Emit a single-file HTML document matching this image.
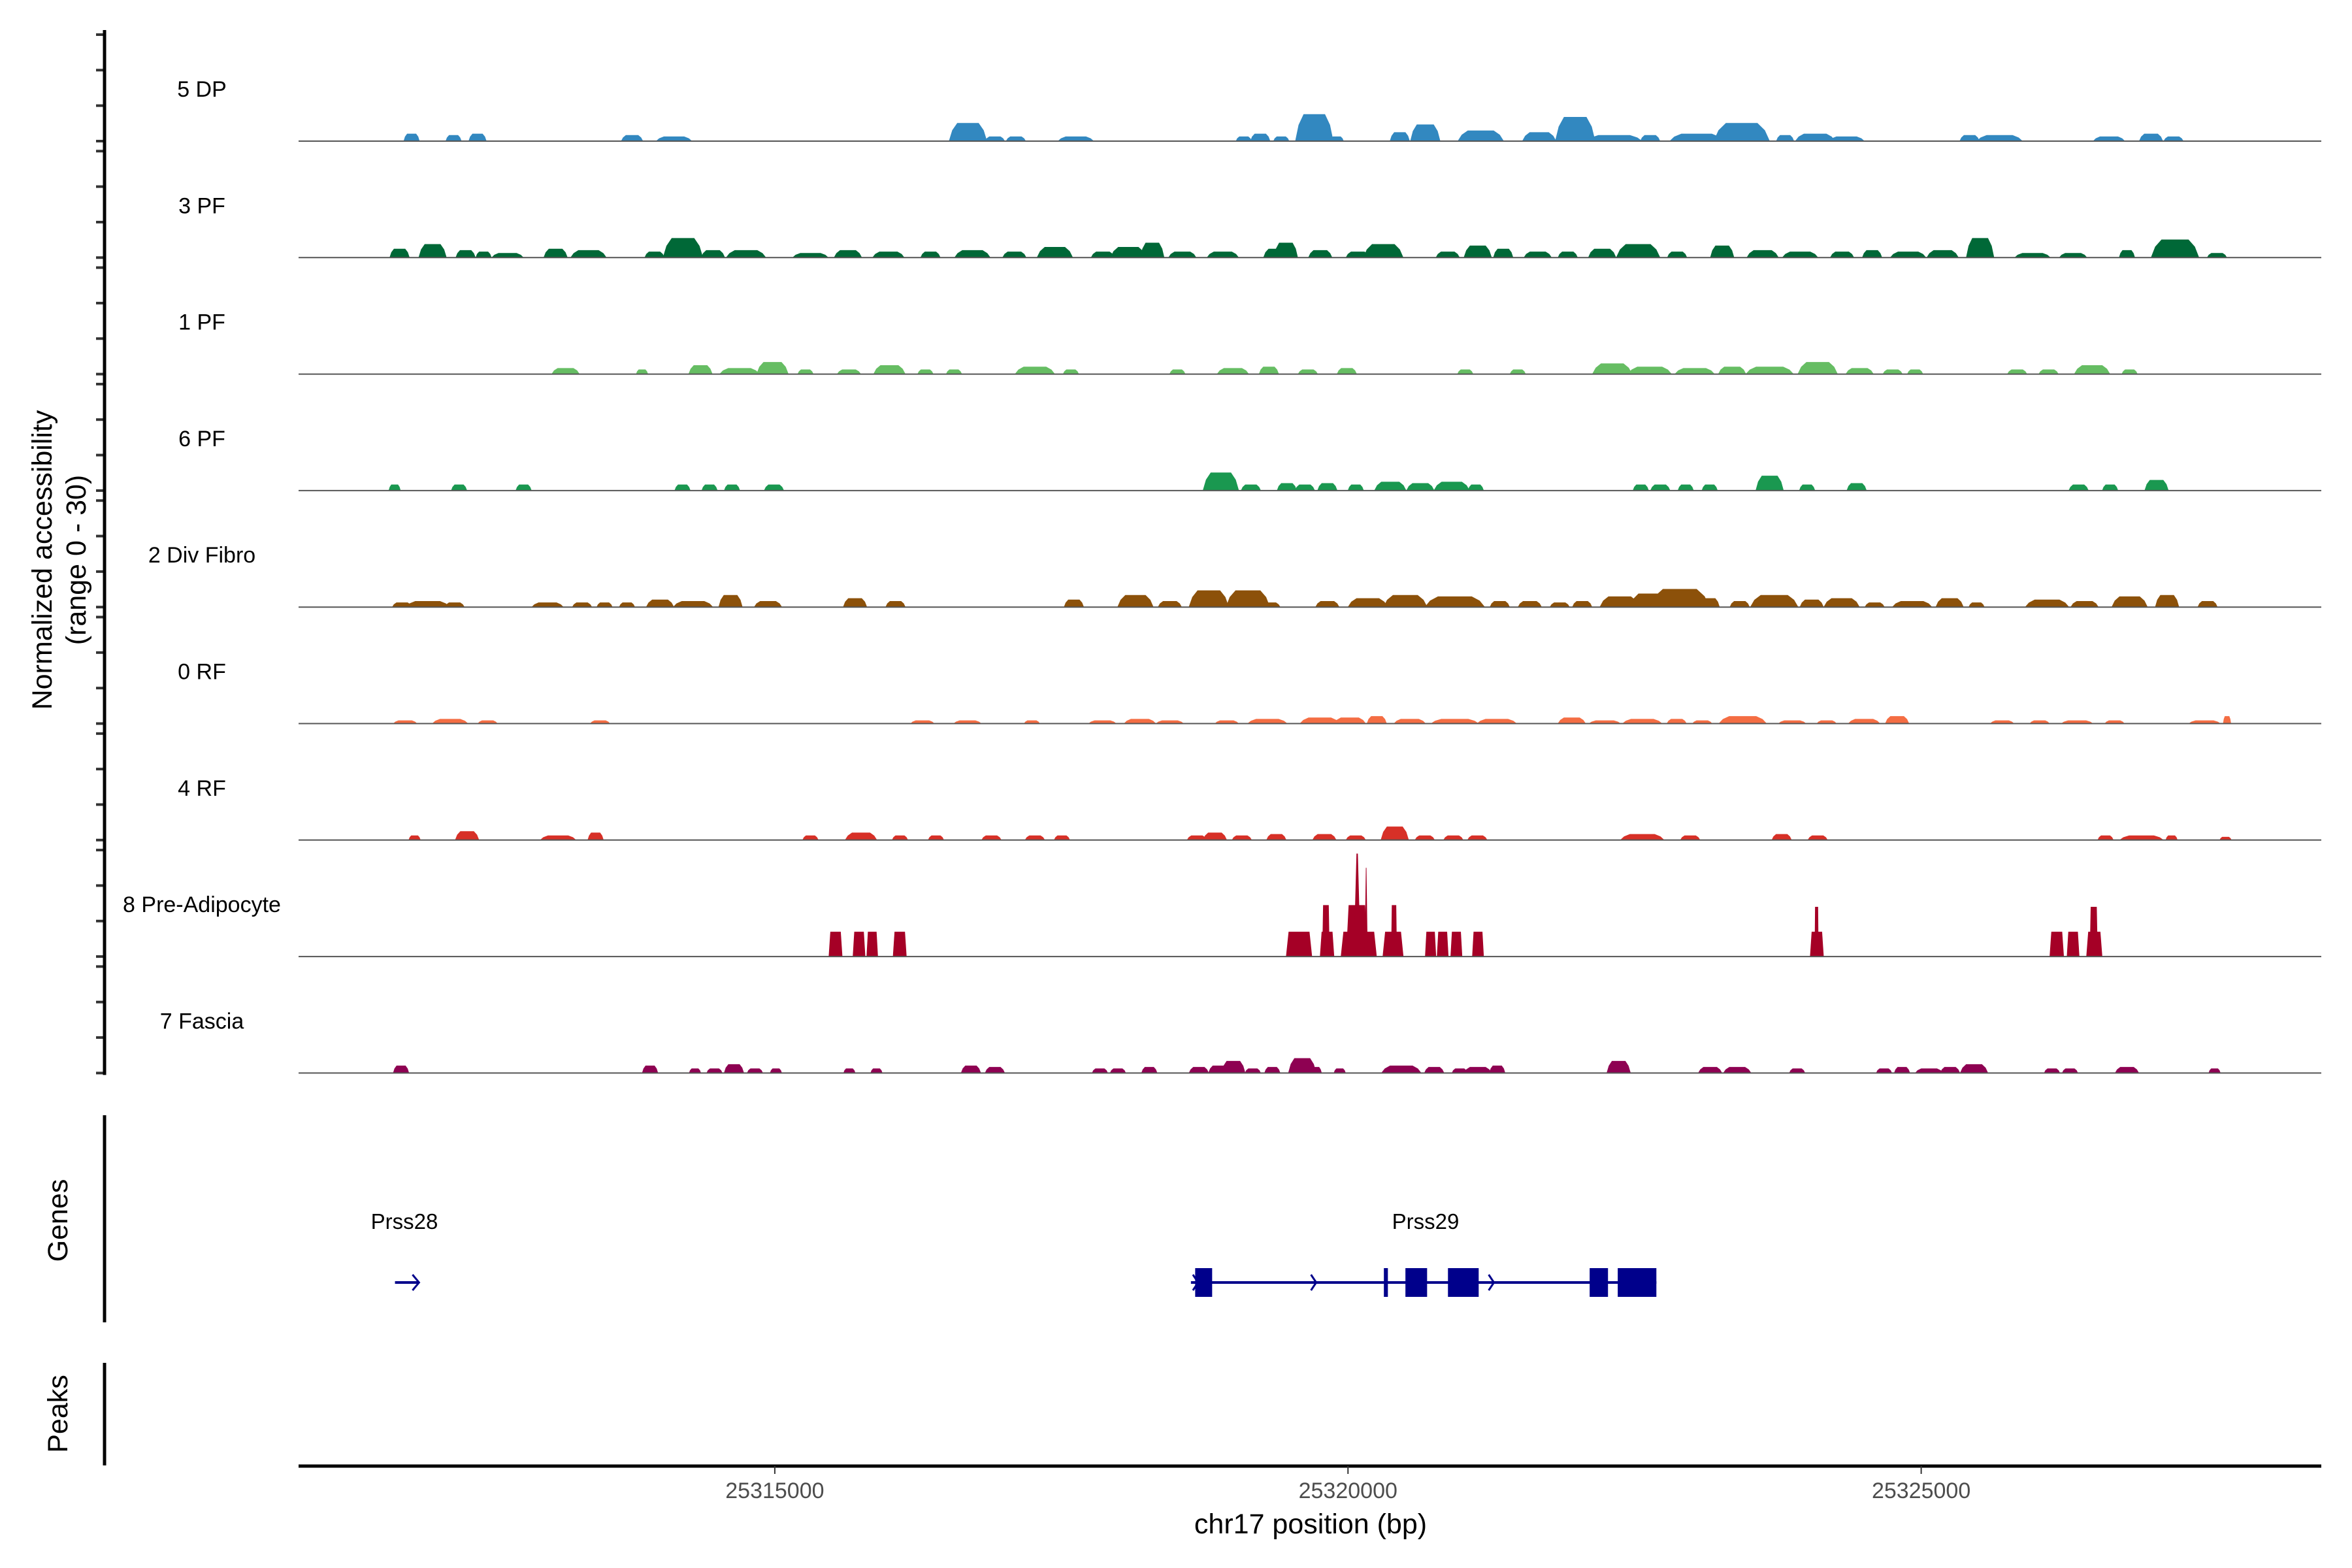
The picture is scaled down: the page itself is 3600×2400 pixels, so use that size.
<!DOCTYPE html>
<html><head><meta charset="utf-8"><style>
html,body{margin:0;padding:0;background:#fff}
svg{display:block;font-family:"Liberation Sans",sans-serif}
</style></head><body>
<svg id="chart" width="3600" height="2400" viewBox="0 0 3600 2400" xmlns="http://www.w3.org/2000/svg">
<rect width="3600" height="2400" fill="#fff"/>
<g id="tracks"></g>
<g id="yaxis"></g>
<text transform="translate(79,857) rotate(-90)" text-anchor="middle" font-size="43" fill="#000">Normalized accessibility</text>
<text transform="translate(131,857) rotate(-90)" text-anchor="middle" font-size="43" fill="#000">(range 0 - 30)</text>
<line x1="160" y1="1707" x2="160" y2="2024" stroke="#000" stroke-width="5"/>
<text transform="translate(103,1868) rotate(-90)" text-anchor="middle" font-size="43" fill="#000">Genes</text>
<line x1="160" y1="2086" x2="160" y2="2243" stroke="#000" stroke-width="5"/>
<text transform="translate(103,2164) rotate(-90)" text-anchor="middle" font-size="43" fill="#000">Peaks</text>
<g id="genes"></g>
<g id="xaxis"></g>
<text x="2006" y="2347" text-anchor="middle" font-size="43" fill="#000">chr17 position (bp)</text>
</svg>
<script>
const xDomain = [25310846, 25328490];
const xTicks = [25315000, 25320000, 25325000];
const trackNames = ["5 DP","3 PF","1 PF","6 PF","2 Div Fibro","0 RF","4 RF","8 Pre-Adipocyte","7 Fascia"];
// [center bp, width bp, height (0-30)]
const dp5 = [[25311832,104,2.1],[25312198,104,1.7],[25312407,117,2.1],[25313755,143,1.7],[25314121,234,1.3],[25316685,247,5.1],[25316920,130,1.3],[25317103,130,1.3],[25317626,234,1.3],[25319091,104,1.3],[25319235,130,2.1],[25319418,104,1.3],[25319706,247,7.6],[25319902,91,1.3],[25320452,130,2.5],[25320674,195,4.7],[25321158,299,3],[25321668,221,2.5],[25321982,260,6.8],[25322322,364,1.7],[25322636,130,1.7],[25323041,351,2.1],[25323434,364,5.1],[25323813,117,1.7],[25324075,260,2.1],[25324349,234,1.3],[25325422,130,1.7],[25325684,299,1.7],[25326638,208,1.3],[25327005,156,2.1],[25327201,130,1.3]];
const pf3 = [[25311727,130,2.5],[25312015,182,3.8],[25312303,130,2.1],[25312460,104,1.7],[25312669,208,1.3],[25313088,156,2.5],[25313375,234,2.1],[25313951,130,1.7],[25314199,260,5.5],[25314461,156,2.1],[25314749,260,2.1],[25315311,234,1.3],[25315638,182,2.1],[25315991,208,1.7],[25316358,130,1.7],[25316724,234,2.1],[25317090,156,1.7],[25317443,234,3],[25317862,156,1.7],[25318084,234,3],[25318293,156,4.2],[25318555,182,1.7],[25318908,208,1.7],[25319366,156,2.5],[25319458,156,4.2],[25319758,156,2.1],[25320085,156,1.7],[25320308,260,3.8],[25320870,156,1.7],[25321132,182,3.4],[25321354,130,2.5],[25321655,182,1.7],[25321917,130,1.7],[25322217,182,2.5],[25322531,286,3.8],[25322871,130,1.7],[25323264,156,3.4],[25323617,208,2.1],[25323944,234,1.7],[25324310,156,1.7],[25324572,130,2.1],[25324886,234,1.7],[25325187,208,2.1],[25325514,182,5.5],[25325971,234,1.3],[25326325,182,1.3],[25326795,104,2.1],[25327214,312,5.1],[25327580,130,1.3]];
const pf1 = [[25313175,182,1.7],[25313842,78,1.3],[25314352,156,2.5],[25314692,260,1.7],[25314980,208,3.4],[25315268,104,1.3],[25315647,156,1.3],[25316000,208,2.5],[25316314,104,1.3],[25316563,104,1.3],[25317269,260,2.1],[25317583,104,1.3],[25318512,104,1.3],[25318996,208,1.7],[25319310,130,2.1],[25319650,130,1.3],[25319990,130,1.7],[25321023,104,1.3],[25321481,104,1.3],[25322305,260,3],[25322632,286,2.1],[25323024,260,1.7],[25323351,182,2.1],[25323678,312,2.1],[25324097,260,3.4],[25324463,182,1.7],[25324751,130,1.3],[25324947,104,1.3],[25325837,130,1.3],[25326111,130,1.3],[25326491,234,2.5],[25326818,104,1.3]];
const pf6 = [[25311684,78,1.7],[25312246,104,1.7],[25312809,104,1.7],[25314195,104,1.7],[25314431,104,1.7],[25314627,104,1.7],[25314993,130,1.7],[25318891,234,5.1],[25319153,130,1.7],[25319467,130,2.1],[25319624,130,1.7],[25319820,130,2.1],[25320068,104,1.7],[25320369,208,2.5],[25320631,182,2.1],[25320905,234,2.5],[25321115,104,1.7],[25322554,104,1.7],[25322724,130,1.7],[25322946,104,1.7],[25323155,104,1.7],[25323678,182,4.2],[25324005,104,1.7],[25324437,130,2.1],[25326373,130,1.7],[25326648,104,1.7],[25327053,156,3]];
const divFibro = [[25311749,130,1.3],[25311972,286,1.7],[25312207,130,1.3],[25313018,208,1.3],[25313319,130,1.3],[25313515,104,1.3],[25313711,104,1.3],[25313999,182,2.1],[25314287,260,1.7],[25314614,156,3.4],[25314941,182,1.7],[25315700,156,2.5],[25316053,130,1.7],[25317609,130,2.1],[25318146,234,3.4],[25318446,156,1.7],[25318786,260,4.7],[25319127,286,4.7],[25319323,130,1.3],[25319820,156,1.7],[25320173,260,2.5],[25320500,286,3.4],[25320932,390,3],[25321324,130,1.7],[25321586,156,1.7],[25321847,130,1.3],[25322043,130,1.7],[25322370,260,3],[25322632,260,3.8],[25322894,390,5.1],[25323155,130,2.5],[25323417,130,1.7],[25323718,312,3.4],[25324045,156,2.1],[25324306,234,2.5],[25324594,130,1.3],[25324921,260,1.7],[25325248,182,2.5],[25325483,104,1.3],[25326098,286,2.1],[25326425,182,1.7],[25326818,234,3],[25327145,156,3.4],[25327498,130,1.7]];
const rf0 = [[25311776,156,0.9],[25312168,234,1.3],[25312495,130,0.9],[25313476,130,0.9],[25316288,156,0.9],[25316681,182,0.9],[25317243,104,0.9],[25317858,182,0.9],[25318185,208,1.3],[25318446,182,0.9],[25318943,156,0.9],[25319297,260,1.3],[25319754,260,1.7],[25320016,208,1.7],[25320251,130,2.1],[25320539,208,1.3],[25320932,312,1.3],[25321298,260,1.3],[25321952,182,1.7],[25322240,208,0.9],[25322567,260,1.3],[25322867,130,1.3],[25323090,130,0.9],[25323443,312,2.1],[25323875,182,0.9],[25324175,130,0.9],[25324502,208,1.3],[25324790,156,2.1],[25325706,156,0.9],[25326033,130,0.9],[25326360,208,0.9],[25326687,130,0.9],[25327472,208,0.9],[25327668,52,2.1]];
const rf4 = [[25311858,78,1.3],[25312316,156,2.5],[25313110,234,1.3],[25313437,104,2.1],[25315311,104,1.3],[25315752,208,2.1],[25316092,104,1.3],[25316406,104,1.3],[25316890,130,1.3],[25317269,130,1.3],[25317505,104,1.3],[25318682,130,1.3],[25318839,156,2.1],[25319074,130,1.3],[25319375,130,1.7],[25319794,156,1.7],[25320068,130,1.3],[25320408,182,3.8],[25320670,130,1.3],[25320919,130,1.3],[25321128,130,1.3],[25322567,286,1.7],[25322985,130,1.3],[25323783,130,1.7],[25324097,130,1.3],[25326608,104,1.3],[25326922,286,1.3],[25327184,78,1.3],[25327655,78,0.9]];
// [start bp, end bp, height]
const preAdipo = [[25315470,25315590,7],[25315680,25315790,7],[25315800,25315900,7],[25316030,25316150,7],[25319459,25319687,7],[25319755,25319880,7],[25319775,25319840,14.5],[25319937,25320251,7],[25319983,25320171,14.5],[25320050,25320110,29],[25320145,25320172,25],[25320302,25320484,7],[25320376,25320427,14.5],[25320672,25320769,7],[25320775,25320877,7],[25320894,25320997,7],[25321083,25321185,7],[25324030,25324150,7],[25324070,25324105,14],[25326120,25326245,7],[25326270,25326380,7],[25326440,25326580,7],[25326470,25326540,14]];
const fascia = [[25311740,104,2.1],[25313912,104,2.1],[25314304,78,1.3],[25314474,104,1.3],[25314644,130,2.5],[25314827,104,1.3],[25315010,78,1.3],[25315651,78,1.3],[25315887,78,1.3],[25316711,130,2.1],[25316920,130,1.7],[25317836,104,1.3],[25317993,104,1.3],[25318267,104,1.7],[25318699,130,1.7],[25318869,130,2.1],[25319000,156,3.4],[25319170,104,1.3],[25319340,104,1.7],[25319601,182,4.2],[25319719,78,1.7],[25319928,78,1.3],[25320465,260,2.1],[25320752,130,1.7],[25320975,104,1.3],[25321132,182,1.7],[25321302,104,2.1],[25322361,156,3.4],[25323159,156,1.7],[25323395,182,1.7],[25323918,104,1.3],[25324676,104,1.3],[25324833,104,1.7],[25325069,182,1.3],[25325252,130,1.7],[25325461,182,2.5],[25326141,104,1.3],[25326298,104,1.3],[25326795,156,1.7],[25327559,78,1.3]];
// genes: exons [start,end]
const prss29Exons = [[25318667,25318815],[25320313,25320348],[25320501,25320690],[25320872,25321140],[25322108,25322268],[25322353,25322690]];
const prss29Span = [25318630, 25322690];
const prss28Span = [25311687, 25311897];

const NS = "http://www.w3.org/2000/svg";
const trackData = [dp5, pf3, pf1, pf6, divFibro, rf0, rf4, preAdipo, fascia];
const colors = ["#3288c0","#006837","#66bd63","#1a9850","#8c510a","#f46d43","#d73027","#a50026","#8e0152"];
const X0 = 457, X1 = 3553;
const WIDEN = 1.35;
function xs(bp){ return X0 + (bp - xDomain[0]) / (xDomain[1] - xDomain[0]) * (X1 - X0); }
const BASE0 = 216, STEP = 178.3, UNIT = 163/30;
function ys(i, v){ return BASE0 + i*STEP - v*UNIT; }
function mk(tag, attrs, parent){ const e = document.createElementNS(NS, tag); for (const k in attrs) e.setAttribute(k, attrs[k]); parent.appendChild(e); return e; }

const gT = document.getElementById("tracks");
const gY = document.getElementById("yaxis");
trackData.forEach((data, i) => {
  const g = mk("g", {}, gT);
  
  
  const base = ys(i, 0);
  data.forEach(d => {
    let x0, x1, h, inset, mid;
    if (i === 7) { x0 = xs(d[0]); x1 = xs(d[1]); h = d[2]; inset = Math.min((x1-x0)*0.12, 4); if (h > 20) inset = (x1-x0)*0.4; }
    else { x0 = xs(d[0] - d[1]*WIDEN/2); x1 = xs(d[0] + d[1]*WIDEN/2); h = d[2]; inset = (x1-x0)*0.22; }
    const top = ys(i, h);
    let pts;
    if (i === 7) pts = `${x0},${base} ${x0+inset},${top} ${x1-inset},${top} ${x1},${base}`;
    else { const sh = ys(i, h*0.6); pts = `${x0},${base} ${x0+inset*0.4},${sh} ${x0+inset},${top} ${x1-inset},${top} ${x1-inset*0.4},${sh} ${x1},${base}`; }
    const p = mk("polygon", {points: pts, fill: colors[i]}, g);
    
    
  });
  const bl = mk("line", {x1: X0, x2: X1, y1: base, y2: base, stroke: "#555", "stroke-width": 2}, g);
  
  
  const lab = mk("text", {x: 309, y: base - 68, "text-anchor": "middle", "font-size": 34, fill: "#000"}, g);
  lab.textContent = trackNames[i];
  
  
  [0,10,20,30].forEach(v => {
    const t = mk("line", {x1: 147, x2: 160, y1: ys(i, v), y2: ys(i, v), stroke: "#333", "stroke-width": 4}, gY);
    
    
  });
});
const ax = mk("line", {x1: 160, x2: 160, y1: 46, y2: ys(8,0)+3, stroke: "#000", "stroke-width": 5}, gY);



// genes
const gG = document.getElementById("genes");
const GY = 1963;
const l28 = mk("line", {x1: xs(prss28Span[0]), x2: xs(prss28Span[1]), y1: GY, y2: GY, stroke: "#00008b", "stroke-width": 4}, gG);


const a28 = mk("polyline", {points: `${xs(prss28Span[1])-10},${GY-12} ${xs(prss28Span[1])},${GY} ${xs(prss28Span[1])-10},${GY+12}`, fill: "none", stroke: "#00008b", "stroke-width": 3}, gG);


const t28 = mk("text", {x: xs((prss28Span[0]+prss28Span[1])/2) - 4, y: 1881, "text-anchor": "middle", "font-size": 33, fill: "#000"}, gG);
t28.textContent = "Prss28";


const l29 = mk("line", {x1: xs(prss29Span[0]), x2: xs(prss29Span[1]), y1: GY, y2: GY, stroke: "#00008b", "stroke-width": 4}, gG);


[prss29Span[0]+40, 25319700, 25321250].forEach(bp => {
  const a = mk("polyline", {points: `${xs(bp)-4},${GY-12} ${xs(bp)+4},${GY} ${xs(bp)-4},${GY+12}`, fill: "none", stroke: "#00008b", "stroke-width": 3}, gG);
  
  
});
prss29Exons.forEach(e => {
  const r = mk("rect", {x: xs(e[0]), y: GY-22, width: xs(e[1])-xs(e[0]), height: 44, fill: "#00008b"}, gG);
  
  
});
const t29 = mk("text", {x: 2182, y: 1881, "text-anchor": "middle", "font-size": 33, fill: "#000"}, gG);
t29.textContent = "Prss29";



// x axis
const gX = document.getElementById("xaxis");
const xl = mk("line", {x1: X0, x2: X1, y1: 2244, y2: 2244, stroke: "#000", "stroke-width": 5}, gX);


xTicks.forEach(v => {
  const t = mk("line", {x1: xs(v), x2: xs(v), y1: 2244, y2: 2256, stroke: "#333", "stroke-width": 2}, gX);
  
  
  const l = mk("text", {x: xs(v), y: 2293, "text-anchor": "middle", "font-size": 34, fill: "#4d4d4d"}, gX);
  l.textContent = String(v);
  
  
});
</script>
</body></html>
